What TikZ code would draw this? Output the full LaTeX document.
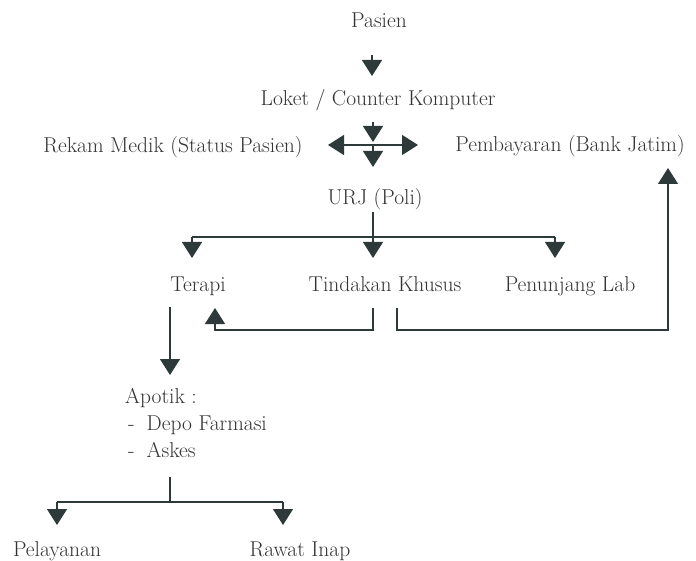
\documentclass[tikz,border=0pt]{standalone}
\usepackage{fontspec}
\setmainfont{Latin Modern Roman}
\usetikzlibrary{arrows.meta}
\definecolor{ln}{HTML}{2E3A39}
\definecolor{tx}{HTML}{333333}
\begin{document}
\begin{tikzpicture}[x=1pt,y=-1pt,
  lbl/.style={font=\rmfamily\fontsize{21.5}{27}\selectfont, text=tx, inner sep=0pt, anchor=base},
  lblw/.style={lbl, anchor=base west},
  con/.style={draw=ln, line width=1.3pt},
  arr/.style={con, -{Triangle[width=20pt,length=16pt]}},
  darr/.style={con, {Triangle[width=20pt,length=16pt]}-{Triangle[width=20pt,length=16pt]}}]
\useasboundingbox[fill=white] (0,0) rectangle (696,561);

% texts
\node[lbl] (pasien) at (379,28) {Pasien};
\node[lbl] (loket) at (378,106) {Loket / Counter Komputer};
\node[lbl] (rekam) at (173,153) {Rekam Medik (Status Pasien)};
\node[lbl] (bayar) at (570,152) {Pembayaran (Bank Jatim)};
\node[lbl] (urj) at (375,205) {URJ (Poli)};
\node[lbl] (terapi) at (198,292) {Terapi};
\node[lbl] (tindakan) at (385,292) {Tindakan Khusus};
\node[lbl] (lab) at (570,292) {Penunjang Lab};
\node[lblw] (apotik) at (125,403) {Apotik :};
\node[lblw] (depo) at (128,430) {-\hspace{12pt}Depo Farmasi};
\node[lblw] (askes) at (128,457) {-\hspace{12pt}Askes};
\node[lbl] (pelayanan) at (57,556) {Pelayanan};
\node[lbl] (rawat) at (300,556) {Rawat Inap};

% coordinates
\coordinate (p1) at (372,55);  \coordinate (p2) at (372,76);
\coordinate (l1) at (373,122); \coordinate (l2) at (373,142);
\coordinate (c0) at (373,145); \coordinate (c1) at (373,167);
\coordinate (cl) at (328,145); \coordinate (cr) at (418,145);
\coordinate (u1) at (373,212); \coordinate (u2) at (373,237);
\coordinate (hl) at (192,237); \coordinate (hr) at (555,237);
\coordinate (t1) at (192,258); \coordinate (t2) at (373,258); \coordinate (t3) at (555,258);
\coordinate (k1) at (373,308); \coordinate (k2) at (373,330);
\coordinate (k3) at (215,330); \coordinate (k4) at (215,308);
\coordinate (m1) at (397,308); \coordinate (m2) at (397,330);
\coordinate (m3) at (668,330); \coordinate (m4) at (668,168);
\coordinate (r1) at (170,307); \coordinate (r2) at (170,375);
\coordinate (a1) at (170,477); \coordinate (a2) at (170,502);
\coordinate (al) at (57,502);  \coordinate (ar) at (283,502);
\coordinate (b1) at (57,525);  \coordinate (b2) at (283,525);

% connectors
\draw[arr] (p1) -- (p2);
\draw[arr] (l1) -- (l2);
\draw[arr] (c0) -- (c1);
\draw[darr] (cl) -- (cr);
\draw[con] (u1) -- (u2);
\draw[con] (hl) -- (hr);
\draw[arr] (hl) -- (t1);
\draw[arr] (u2) -- (t2);
\draw[arr] (hr) -- (t3);
\draw[arr] (k1) -- (k2) -- (k3) -- (k4);
\draw[arr] (m1) -- (m2) -- (m3) -- (m4);
\draw[arr] (r1) -- (r2);
\draw[con] (a1) -- (a2);
\draw[con] (al) -- (ar);
\draw[arr] (al) -- (b1);
\draw[arr] (ar) -- (b2);
\end{tikzpicture}
\end{document}
